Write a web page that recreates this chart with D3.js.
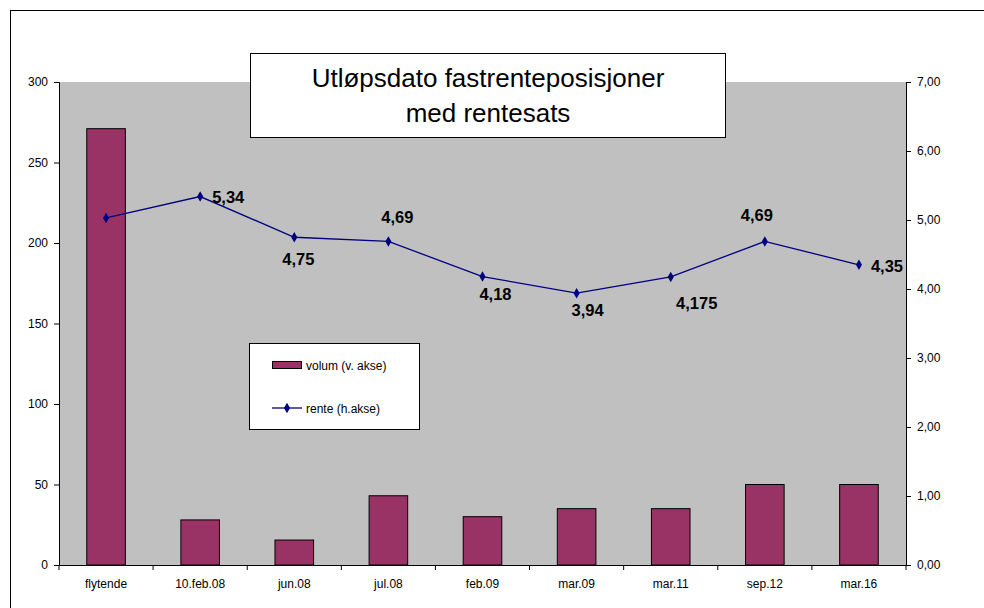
<!DOCTYPE html>
<html>
<head>
<meta charset="utf-8">
<title>Utløpsdato fastrenteposisjoner</title>
<script src="https://d3js.org/d3.v7.min.js"></script>
<style>
body { margin: 0; background: #fff; }
text { font-family: "Liberation Sans", Arial, sans-serif; }
</style>
</head>
<body>
<svg width="984" height="608"></svg>
<script>
// data
var categories = ["flytende", "10.feb.08", "jun.08", "jul.08", "feb.09", "mar.09", "mar.11", "sep.12", "mar.16"];
var volum = [271, 28, 15.5, 43, 30, 35, 35, 50, 50];
var rente = [5.03, 5.34, 4.75, 4.69, 4.18, 3.94, 4.175, 4.69, 4.35];
var renteLabels = ["", "5,34", "4,75", "4,69", "4,18", "3,94", "4,175", "4,69", "4,35"];
var leftTicks = [0, 50, 100, 150, 200, 250, 300];
var rightTicks = [0, 1, 2, 3, 4, 5, 6, 7];
var titleLines = ["Utløpsdato fastrenteposisjoner", "med rentesats"];

var svg = d3.select("svg");
var plotLeft = 59, plotRight = 906, plotTop = 82, plotBottom = 565;

// outer chart border (runs off the picture right and bottom)
svg.append("rect")
	.attr("x", 10.5).attr("y", 10.5)
	.attr("width", 1000).attr("height", 700)
	.attr("fill", "#fff").attr("stroke", "#000").attr("stroke-width", 1);

var x = d3.scaleBand().domain(categories).range([plotLeft, plotRight]);
var yL = d3.scaleLinear().domain([0, 300]).range([plotBottom, plotTop]);
var yR = d3.scaleLinear().domain([0, 7]).range([plotBottom, plotTop]);

svg.append("rect")
	.attr("x", plotLeft).attr("y", plotTop)
	.attr("width", plotRight - plotLeft).attr("height", plotBottom - plotTop)
	.attr("fill", "#c0c0c0");

// bars
var bw = x.bandwidth() * 0.41;
svg.append("g").selectAll("rect")
	.data(volum)
	.enter().append("rect")
		.attr("x", function(d, i) { return x(categories[i]) + x.bandwidth() / 2 - bw / 2; })
		.attr("y", function(d) { return yL(d); })
		.attr("width", bw)
		.attr("height", function(d) { return yL(0) - yL(d); })
		.attr("fill", "#993366")
		.attr("stroke", "#000").attr("stroke-width", 1);

// axes
var axL = svg.append("g").attr("transform", "translate(" + plotLeft + ",0)")
	.call(d3.axisLeft(yL).tickValues(leftTicks).tickSize(5).tickPadding(6).tickFormat(d3.format("d")));
var axR = svg.append("g").attr("transform", "translate(" + plotRight + ",0)")
	.call(d3.axisRight(yR).tickValues(rightTicks).tickSize(5).tickPadding(6)
		.tickFormat(function(d) { return d3.format(".2f")(d).replace(".", ","); }));
var axB = svg.append("g").attr("transform", "translate(0," + plotBottom + ")")
	.call(d3.axisBottom(x).tickSize(0).tickPadding(14));

// category boundary ticks on the bottom axis
axB.selectAll(".sep")
	.data(d3.range(categories.length + 1))
	.enter().append("line")
		.attr("class", "sep")
		.attr("x1", function(i) { return plotLeft + i * x.step(); })
		.attr("x2", function(i) { return plotLeft + i * x.step(); })
		.attr("y1", 0).attr("y2", 5)
		.attr("stroke", "#000");

[axL, axR, axB].forEach(function(a) {
	a.select(".domain").attr("stroke", "#000");
	a.selectAll("text").attr("font-size", 12).attr("fill", "#000")
		.style("font-family", "'Liberation Sans', Arial, sans-serif");
});

// rente line
var cx = function(i) { return x(categories[i]) + x.bandwidth() / 2; };
var line = d3.line()
	.x(function(d, i) { return cx(i); })
	.y(function(d) { return yR(d); });

svg.append("path")
	.datum(rente)
	.attr("d", line)
	.attr("fill", "none")
	.attr("stroke", "#000080")
	.attr("stroke-width", 1.3);

var diamond = d3.symbol().type(d3.symbolDiamond).size(32);
svg.append("g").selectAll("path")
	.data(rente)
	.enter().append("path")
		.attr("d", diamond)
		.attr("transform", function(d, i) { return "translate(" + cx(i) + "," + yR(d) + ")"; })
		.attr("fill", "#000080");

// data labels, nudged by hand like in the original
var labelDx = [0, 12, 4, 9, 13, 11, 26, -8, 12];
var labelDy = [0, 6, 28, -18, 23, 23, 32, -20, 7];
var labelAnchor = ["middle", "start", "middle", "middle", "middle", "middle", "middle", "middle", "start"];
svg.append("g").selectAll("text")
	.data(rente)
	.enter().append("text")
		.text(function(d, i) { return renteLabels[i]; })
		.attr("x", function(d, i) { return cx(i) + labelDx[i]; })
		.attr("y", function(d, i) { return yR(d) + labelDy[i]; })
		.attr("text-anchor", function(d, i) { return labelAnchor[i]; })
		.attr("font-size", 16.5).attr("font-weight", "bold").attr("fill", "#000");

// title box
svg.append("rect")
	.attr("x", 250.5).attr("y", 53.5).attr("width", 475).attr("height", 84)
	.attr("fill", "#fff").attr("stroke", "#000");
svg.append("g").selectAll("text")
	.data(titleLines)
	.enter().append("text")
		.text(function(d) { return d; })
		.attr("x", 488).attr("y", function(d, i) { return 87 + i * 35; })
		.attr("text-anchor", "middle")
		.attr("font-size", 26).attr("fill", "#000");

// legend
var lg = svg.append("g");
lg.append("rect").attr("x", 249.5).attr("y", 343.5).attr("width", 170).attr("height", 86)
	.attr("fill", "#fff").attr("stroke", "#000");
lg.append("rect").attr("x", 272.5).attr("y", 361.5).attr("width", 29).attr("height", 7)
	.attr("fill", "#993366").attr("stroke", "#000");
lg.append("text").text("volum (v. akse)").attr("x", 306).attr("y", 369.5)
	.attr("font-size", 12).attr("fill", "#000");
lg.append("line").attr("x1", 272).attr("x2", 302).attr("y1", 408).attr("y2", 408)
	.attr("stroke", "#000080").attr("stroke-width", 1.3);
lg.append("path").attr("d", diamond).attr("transform", "translate(287,408)").attr("fill", "#000080");
lg.append("text").text("rente (h.akse)").attr("x", 306).attr("y", 412.5)
	.attr("font-size", 12).attr("fill", "#000");
</script>
</body>
</html>
